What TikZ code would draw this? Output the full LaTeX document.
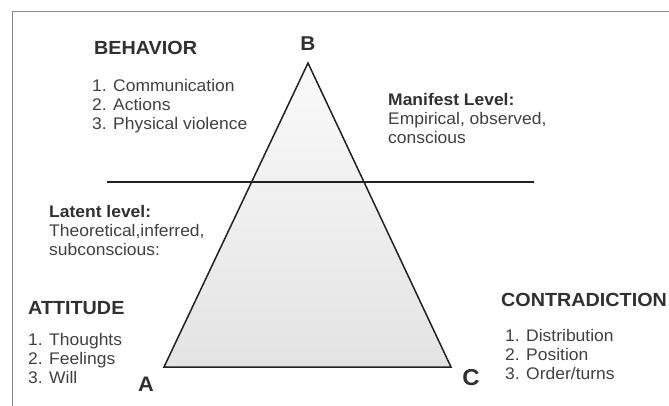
\documentclass[tikz,border=0pt]{standalone}
\usepackage{fontspec}
\setmainfont[FakeStretch=1.04]{Liberation Sans}
\definecolor{headc}{HTML}{303030}
\definecolor{txtc}{HTML}{404040}
\definecolor{framec}{HTML}{8A8A8A}
\definecolor{linec}{HTML}{222222}
\begin{document}
\begin{tikzpicture}[x=1pt,y=-1pt,
  heading/.style={anchor=north west,inner sep=0pt,text=headc,font=\fontsize{19}{22}\selectfont\bfseries},
  listtxt/.style={anchor=north west,inner sep=0pt,align=left,text=txtc,font=\fontsize{16.8}{19}\selectfont},
  leveltxt/.style={anchor=north west,inner sep=0pt,align=left,text=txtc,font=\fontsize{16.8}{19.2}\selectfont},
  vertexlbl/.style={inner sep=0pt,text=headc,font=\fontsize{21}{24}\selectfont\bfseries},
  frameline/.style={draw=framec,line width=1pt},
  tri/.style={draw=linec,line width=1.5pt,line join=miter,top color=white!98!black,bottom color=black!11},
  divider/.style={draw=linec,line width=1.3pt}]
\useasboundingbox (0,0) rectangle (669,406);
% frame
\coordinate (fTL) at (12,12);
\coordinate (fTR) at (669,12);
\coordinate (fBL) at (12,406);
\draw[frameline] (fBL) -- (fTL) -- (fTR);
% triangle
\coordinate (A) at (164,367);
\coordinate (B) at (308,63);
\coordinate (C) at (451,367);
\path[tri] (A) -- (B) -- (C) -- cycle;
% divider
\coordinate (dL) at (107,182);
\coordinate (dR) at (534,182);
\draw[divider] (dL) -- (dR);
% vertex labels
\node[vertexlbl,font=\fontsize{20}{22}\selectfont\bfseries] (labB) at (308,43.5) {B};
\node[vertexlbl] (labA) at (146,384) {A};
\node[vertexlbl,font=\fontsize{23}{25}\selectfont\bfseries] (labC) at (471,378) {C};
% behavior
\node[heading] (behav) at (94,41.5) {BEHAVIOR};
\node[listtxt] (behavlist) at (92,79.5) {1. Communication\\2. Actions\\3. Physical violence};
% manifest
\node[leveltxt] (manifest) at (388,93) {\textcolor{headc}{\bfseries Manifest Level:}\\Empirical, observed,\\conscious};
% latent
\node[leveltxt] (latent) at (49,205) {\textcolor{headc}{\bfseries Latent level:}\\Theoretical,inferred,\\subconscious:};
% attitude
\node[heading] (attit) at (28,301) {ATTITUDE};
\node[listtxt] (attitlist) at (28,333) {1. Thoughts\\2. Feelings\\3. Will};
% contradiction
\node[heading] (contra) at (501,293) {CONTRADICTION};
\node[listtxt] (contralist) at (505,329.5) {1. Distribution\\2. Position\\3. Order/turns};
\end{tikzpicture}
\end{document}
